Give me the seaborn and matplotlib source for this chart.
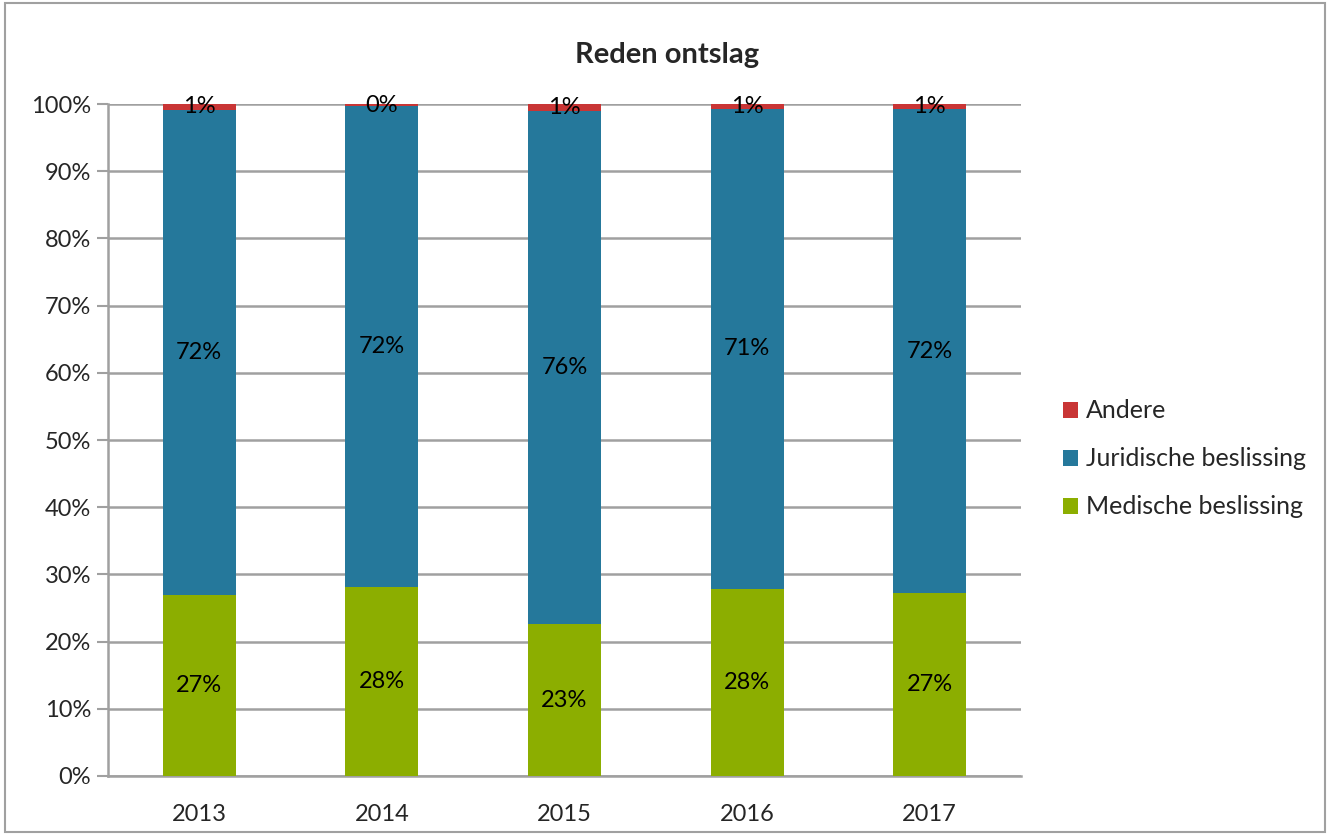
import matplotlib
matplotlib.use("Agg")
import matplotlib.pyplot as plt
import seaborn as sns
import pandas as pd
import numpy as np
from matplotlib.patches import Patch, Rectangle

years = ["2013", "2014", "2015", "2016", "2017"]
medische = [27.0, 28.1, 22.6, 27.9, 27.2]
juridische = [72.15, 71.6, 76.3, 71.3, 72.0]
andere = [0.85, 0.3, 1.1, 0.8, 0.8]

series_names = ["Medische beslissing", "Juridische beslissing", "Andere"]
colors = {"Medische beslissing": "#8CAE00", "Juridische beslissing": "#25789B", "Andere": "#C93535"}

sns.set_theme(style="white")
plt.rcParams["font.family"] = ["Lato", "DejaVu Sans"]

fig = plt.figure(figsize=(13.3, 8.35), dpi=100)
ax = fig.add_axes([108/1330, 1-776/835, (1021-108)/1330, (776-104)/835])

df = pd.DataFrame({"year": years, "med": medische, "jur": juridische, "and": andere})
df["c1"] = df["med"]
df["c2"] = df["med"] + df["jur"]
df["c3"] = df["c2"] + df["and"]

for col, name in [("c3", "Andere"), ("c2", "Juridische beslissing"), ("c1", "Medische beslissing")]:
    sns.barplot(data=df, x="year", y=col, color=colors[name], width=0.4, ax=ax,
                saturation=1, edgecolor="none", linewidth=0, zorder=3)

# labels
for i, y in enumerate(years):
    m, j, a = medische[i], juridische[i], andere[i]
    for val, center in [(m, m/2), (j, m + j/2), (a, m + j + a/2)]:
        ax.text(i, center, f"{round(val):.0f}%", ha="center", va="center", fontsize=17, color="black", zorder=5)

ax.set_ylim(0, 100)
ax.set_xlim(-0.5, 4.5)
ax.set_yticks(np.arange(0, 101, 10))
ax.set_yticklabels([f"{v}%" for v in range(0, 101, 10)], fontsize=17)
ax.tick_params(axis="x", labelsize=17, length=0, pad=20)
ax.tick_params(axis="y", length=8, width=1.5, color="#A0A0A0", left=True, pad=4)
ax.set_xlabel("")
ax.set_ylabel("")
ax.yaxis.grid(True, color="#A0A0A0", linewidth=1.8, zorder=0)
ax.set_axisbelow(True)
for s in ["top", "right"]:
    ax.spines[s].set_visible(False)
for s in ["left", "bottom"]:
    ax.spines[s].set_color("#A0A0A0")
    ax.spines[s].set_linewidth(1.8)

fig.text(667/1330, 1-55/835, "Reden ontslag", ha="center", va="center", fontsize=21, fontweight="bold")

handles = [Patch(facecolor=colors[n], edgecolor="none") for n in ["Andere", "Juridische beslissing", "Medische beslissing"]]
fig.legend(handles, ["Andere", "Juridische beslissing", "Medische beslissing"],
           loc="center left", bbox_to_anchor=(1040/1330, 1-459/835), frameon=False,
           fontsize=18, handlelength=0.6, handleheight=0.6, handletextpad=0.35, labelspacing=1.0)

fig.patches.append(Rectangle((0.004, 0.003), 0.992, 0.994, transform=fig.transFigure,
                             fill=False, edgecolor="#A0A0A0", linewidth=1.5))

fig.savefig("out.png", dpi=100)
